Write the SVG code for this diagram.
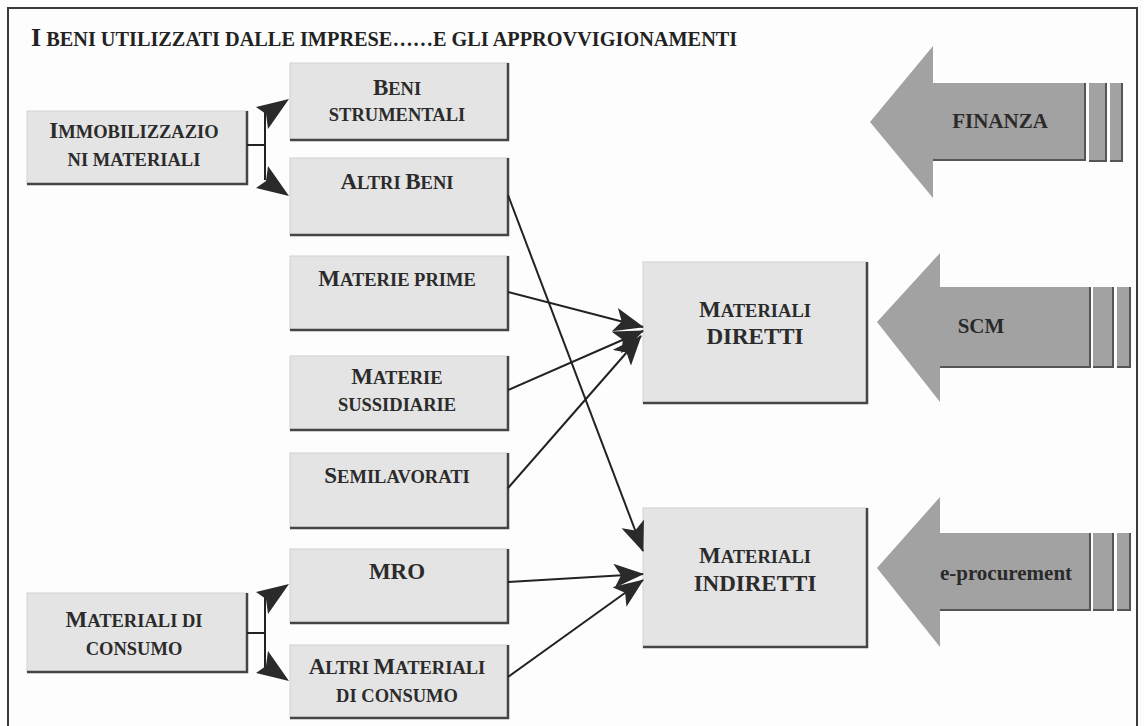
<svg xmlns="http://www.w3.org/2000/svg" width="1144" height="726" viewBox="0 0 1144 726">
<defs>
<style>
.bg{fill:#fdfdfd}
.frame{fill:none;stroke:#3a3a3a;stroke-width:2}
.box{fill:#e4e4e4;stroke:#d2d2d2;stroke-width:1}
.sh{fill:none;stroke:#454545;stroke-width:2.5}
.lbl{font-family:"Liberation Serif","Times New Roman",serif;font-weight:bold;font-size:18.5px;fill:#2b2b2b;text-anchor:middle}
.big{font-size:23px}
.ttl{font-family:"Liberation Serif","Times New Roman",serif;font-weight:bold;font-size:20.3px;fill:#222}
.con{fill:none;stroke:#222;stroke-width:2}
.ahd{fill:#2a2a2a}
.barr{fill:#a2a2a2}
.bsh{fill:none;stroke:#555;stroke-width:2}
.atx{font-family:"Liberation Serif","Times New Roman",serif;font-weight:bold;font-size:21px;fill:#2a2a2a;text-anchor:middle}
</style>
<marker id="ah" viewBox="0 0 30 24" refX="29" refY="12" markerWidth="30" markerHeight="24" markerUnits="userSpaceOnUse" orient="auto">
<path d="M0,0 L30,12 L0,24 L7,12 z" fill="#2a2a2a"/>
</marker>
</defs>
<rect class="bg" x="0" y="0" width="1144" height="726"/>
<rect class="frame" x="8" y="8" width="1129" height="730"/>
<text class="ttl" x="31" y="46"><tspan font-size="26">I</tspan> BENI UTILIZZATI DALLE IMPRESE……E GLI APPROVVIGIONAMENTI</text>

<g id="immobilizzazioni">
<rect class="box" x="27" y="111" width="220" height="73"/>
<path class="sh" d="M247,111 V184 H27"/>
<text class="lbl" x="134" y="138"><tspan class="big">I</tspan>MMOBILIZZAZIO</text>
<text class="lbl" x="134" y="166">NI MATERIALI</text>
</g>
<g id="consumo">
<rect class="box" x="27" y="593" width="220" height="79"/>
<path class="sh" d="M247,593 V672 H27"/>
<text class="lbl" x="134" y="627"><tspan class="big">M</tspan>ATERIALI DI</text>
<text class="lbl" x="134" y="655">CONSUMO</text>
</g>

<g id="beni-strumentali">
<rect class="box" x="290" y="63" width="218" height="77"/>
<path class="sh" d="M508,63 V140 H290"/>
<text class="lbl" x="397" y="95"><tspan class="big">B</tspan>ENI</text>
<text class="lbl" x="397" y="121">STRUMENTALI</text>
</g>
<g id="altri-beni">
<rect class="box" x="290" y="158" width="218" height="77"/>
<path class="sh" d="M508,158 V235 H290"/>
<text class="lbl" x="397" y="189"><tspan class="big">A</tspan>LTRI <tspan class="big">B</tspan>ENI</text>
</g>
<g id="materie-prime">
<rect class="box" x="290" y="256" width="218" height="74"/>
<path class="sh" d="M508,256 V330 H290"/>
<text class="lbl" x="397" y="286"><tspan class="big">M</tspan>ATERIE PRIME</text>
</g>
<g id="materie-sussidiarie">
<rect class="box" x="290" y="356" width="218" height="74"/>
<path class="sh" d="M508,356 V430 H290"/>
<text class="lbl" x="397" y="384"><tspan class="big">M</tspan>ATERIE</text>
<text class="lbl" x="397" y="411">SUSSIDIARIE</text>
</g>
<g id="semilavorati">
<rect class="box" x="290" y="453" width="218" height="75"/>
<path class="sh" d="M508,453 V528 H290"/>
<text class="lbl" x="397" y="483"><tspan class="big">S</tspan>EMILAVORATI</text>
</g>
<g id="mro">
<rect class="box" x="290" y="549" width="218" height="74"/>
<path class="sh" d="M508,549 V623 H290"/>
<text class="lbl big" x="397" y="579">MRO</text>
</g>
<g id="altri-materiali">
<rect class="box" x="290" y="645" width="218" height="73"/>
<path class="sh" d="M508,645 V718 H290"/>
<text class="lbl" x="397" y="674"><tspan class="big">A</tspan>LTRI <tspan class="big">M</tspan>ATERIALI</text>
<text class="lbl" x="397" y="702">DI CONSUMO</text>
</g>

<g id="materiali-diretti">
<rect class="box" x="643" y="262" width="224" height="141"/>
<path class="sh" d="M867,262 V403 H643"/>
<text class="lbl" x="755" y="317"><tspan class="big">M</tspan>ATERIALI</text>
<text class="lbl big" x="755" y="344">DIRETTI</text>
</g>
<g id="materiali-indiretti">
<rect class="box" x="643" y="508" width="224" height="139"/>
<path class="sh" d="M867,508 V647 H643"/>
<text class="lbl" x="755" y="563"><tspan class="big">M</tspan>ATERIALI</text>
<text class="lbl big" x="755" y="591">INDIRETTI</text>
</g>

<g id="finanza">
<path class="barr" d="M870,122 L933,46 V83 H1085 V160 H933 V198 Z"/>
<path class="bsh" d="M933,160 H1085 V83"/>
<rect class="barr" x="1089" y="83" width="17" height="78"/>
<path class="bsh" d="M1089,161 H1106 V83"/>
<rect class="barr" x="1110" y="83" width="12" height="78"/>
<path class="bsh" d="M1110,161 H1122 V83"/>
<text class="atx" x="1000" y="128">FINANZA</text>
</g>
<g id="scm">
<path class="barr" d="M877,322 L940,253 V287 H1090 V367 H940 V402 Z"/>
<path class="bsh" d="M940,367 H1090 V287"/>
<rect class="barr" x="1093" y="287" width="20" height="80"/>
<path class="bsh" d="M1093,367 H1113 V287"/>
<rect class="barr" x="1117" y="287" width="13" height="80"/>
<path class="bsh" d="M1117,367 H1130 V287"/>
<text class="atx" x="981" y="333">SCM</text>
</g>
<g id="e-procurement">
<path class="barr" d="M877,568 L940,497 V533 H1090 V610 H940 V647 Z"/>
<path class="bsh" d="M940,610 H1090 V533"/>
<rect class="barr" x="1093" y="533" width="20" height="77"/>
<path class="bsh" d="M1093,610 H1113 V533"/>
<rect class="barr" x="1117" y="533" width="13" height="77"/>
<path class="bsh" d="M1117,610 H1130 V533"/>
<text class="atx" x="1006" y="580">e-procurement</text>
</g>

<g id="connectors">
<path class="con" d="M247,145 H265 M265,112 V180"/>
<polygon class="ahd" points="289,99 268,129 266,114 256,107"/>
<polygon class="ahd" points="289,196 256,188 266,181 268,166"/>
<path class="con" d="M247,633 H265 M265,597 V668"/>
<polygon class="ahd" points="289,584 268,614 266,599 256,592"/>
<polygon class="ahd" points="289,681 256,673 266,666 268,651"/>
<line class="con" x1="508" y1="195" x2="643" y2="551" marker-end="url(#ah)"/>
<line class="con" x1="508" y1="292" x2="643" y2="327" marker-end="url(#ah)"/>
<line class="con" x1="508" y1="390" x2="643" y2="331" marker-end="url(#ah)"/>
<line class="con" x1="508" y1="488" x2="641" y2="336" marker-end="url(#ah)"/>
<line class="con" x1="508" y1="582" x2="643" y2="574" marker-end="url(#ah)"/>
<line class="con" x1="508" y1="677" x2="643" y2="580" marker-end="url(#ah)"/>
</g>
</svg>
